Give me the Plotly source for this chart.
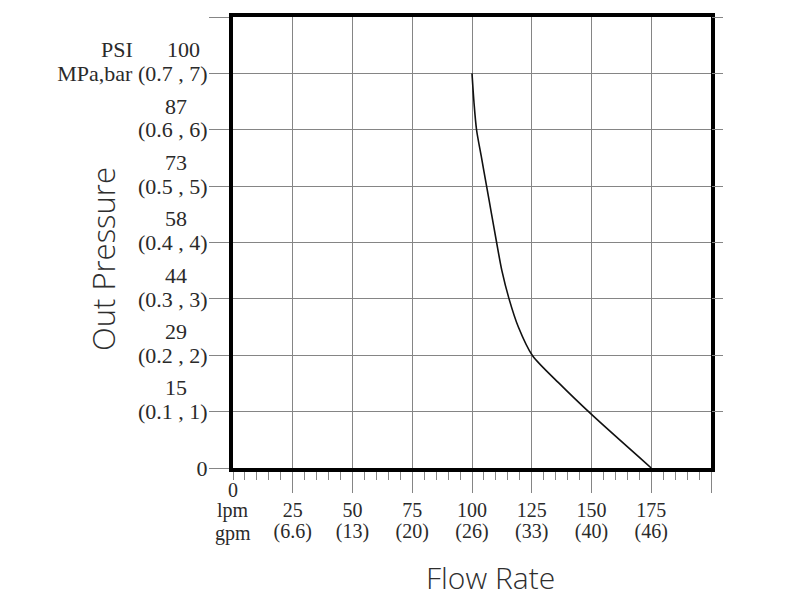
import plotly.graph_objects as go

# pressure curve (lpm vs MPa/bar scale units)
flow_lpm = [100, 100.8, 101.9, 104, 106.1, 108.2, 110.3, 112.5, 115.5, 119.4, 125.2, 136.5, 150, 175]
pressure = [7, 6.5, 6, 5.5, 5, 4.5, 4, 3.5, 3, 2.5, 2, 1.5, 0.95, 0]

x_ticks = [25, 50, 75, 100, 125, 150, 175, 200]
x_lpm = ["25", "50", "75", "100", "125", "150", "175", ""]
x_gpm = ["(6.6)", "(13)", "(20)", "(26)", "(33)", "(40)", "(46)", ""]

y_ticks = [0, 1, 2, 3, 4, 5, 6, 7, 8]
y_bar = ["0", "(0.1 , 1)", "(0.2 , 2)", "(0.3 , 3)", "(0.4 , 4)",
         "(0.5 , 5)", "(0.6 , 6)", "MPa,bar (0.7 , 7)", ""]
psi_levels = [1, 2, 3, 4, 5, 6, 7]
psi_labels = ["15", "29", "44", "58", "73", "87", "100"]

SERIF = "Liberation Serif"
SANS = "Open Sans"
GRID = "#858585"
TXT = "#2a2a2a"
TITLE = "#2e2e2e"
FX = 20   # x tick labels
FY = 22   # y tick labels

# the page body adds an 8px offset, so margins are set 8px smaller
W, H, OFF = 800, 600, 8
ML, MR, MT, MB = 233 - OFF, 800 - 711 + OFF, 17 - OFF, 600 - 468 + OFF

fig = go.Figure()
fig.add_trace(go.Scatter(
    x=flow_lpm, y=pressure, mode="lines",
    line=dict(color="#111", width=1.6, shape="spline", smoothing=0.8),
    showlegend=False, hoverinfo="skip",
))
# invisible helper so the extra axes (gpm labels, right tick stubs) get drawn
fig.add_trace(go.Scatter(x=[0], y=[0], xaxis="x2", yaxis="y2", mode="markers",
                         marker=dict(opacity=0), showlegend=False, hoverinfo="skip"))

fig.update_layout(
    width=W, height=H,
    margin=dict(l=ML, r=MR, t=MT, b=MB),
    paper_bgcolor="white", plot_bgcolor="white",
    font=dict(family=SERIF, size=FX, color=TXT),
    xaxis=dict(
        range=[0, 200], tickmode="array", tickvals=x_ticks, ticktext=x_lpm,
        ticks="outside", ticklen=21, tickwidth=1.3, tickcolor=GRID,
        showgrid=True, gridcolor=GRID, gridwidth=1.3,
        minor=dict(dtick=5, tick0=0, ticks="outside", ticklen=8,
                   tickcolor=GRID, tickwidth=1.2, showgrid=False),
        showline=True, linecolor="black", linewidth=4, mirror=True,
        zeroline=False, automargin=False,
        tickfont=dict(family=SERIF, size=FX, color=TXT),
    ),
    xaxis2=dict(
        range=[0, 200], overlaying="x", anchor="y", side="bottom",
        tickmode="array", tickvals=x_ticks, ticktext=x_gpm, ticks="",
        ticklabelstandoff=49, showgrid=False, zeroline=False,
        showline=False, automargin=False,
        tickfont=dict(family=SERIF, size=FX, color=TXT),
    ),
    yaxis=dict(
        range=[0, 8], tickmode="array", tickvals=y_ticks, ticktext=y_bar,
        ticks="outside", ticklen=20, tickwidth=1.3, tickcolor=GRID,
        ticklabelstandoff=-3,
        showgrid=True, gridcolor=GRID, gridwidth=1.3,
        showline=True, linecolor="black", linewidth=4, mirror=True,
        zeroline=False, automargin=False,
        tickfont=dict(family=SERIF, size=FY, color=TXT),
    ),
    yaxis2=dict(
        range=[0, 8], overlaying="y", anchor="x", side="right", tickmode="array",
        tickvals=y_ticks[1:], ticks="outside", ticklen=11, tickwidth=1.3,
        tickcolor=GRID, showticklabels=False, showgrid=False, zeroline=False,
        automargin=False,
    ),
)

for lvl, txt in zip(psi_levels, psi_labels):
    fig.add_annotation(x=0, y=lvl + 0.42, xref="x", yref="y", text=txt,
                       showarrow=False, xanchor="center", yanchor="middle",
                       xshift=-57 if txt != "100" else -50,
                       font=dict(family=SERIF, size=FY, color=TXT))
fig.add_annotation(x=0, y=7.42, xref="x", yref="y", text="PSI", showarrow=False,
                   xanchor="center", yanchor="middle", xshift=-116,
                   font=dict(family=SERIF, size=FY, color=TXT))
fig.add_annotation(x=0, y=0, xref="x", yref="y", text="0", showarrow=False,
                   xanchor="center", yanchor="middle", yshift=-22,
                   font=dict(family=SERIF, size=FX, color=TXT))
fig.add_annotation(x=0, y=0, xref="x", yref="y", text="lpm", showarrow=False,
                   xanchor="center", yanchor="middle", yshift=-42,
                   font=dict(family=SERIF, size=FX, color=TXT))
fig.add_annotation(x=0, y=0, xref="x", yref="y", text="gpm", showarrow=False,
                   xanchor="center", yanchor="middle", yshift=-65,
                   font=dict(family=SERIF, size=FX, color=TXT))

# axis titles, placed by their on-screen pixel centres
plot_w, plot_h = W - ML - MR, H - MT - MB


def px_to_paper(px, py):
    return (px - OFF - ML) / plot_w, (H - MB - (py - OFF)) / plot_h


tx, ty = px_to_paper(103, 259)
fig.add_annotation(x=tx, y=ty, xref="paper", yref="paper", text="Out Pressure",
                   showarrow=False, textangle=-90, xanchor="center", yanchor="middle",
                   font=dict(family=SANS, size=31, color=TITLE, weight=300))
tx, ty = px_to_paper(490, 577)
fig.add_annotation(x=tx, y=ty, xref="paper", yref="paper", text="Flow Rate",
                   showarrow=False, xanchor="center", yanchor="middle",
                   font=dict(family=SANS, size=30, color=TITLE, weight=300))

fig.write_html("out.html")
